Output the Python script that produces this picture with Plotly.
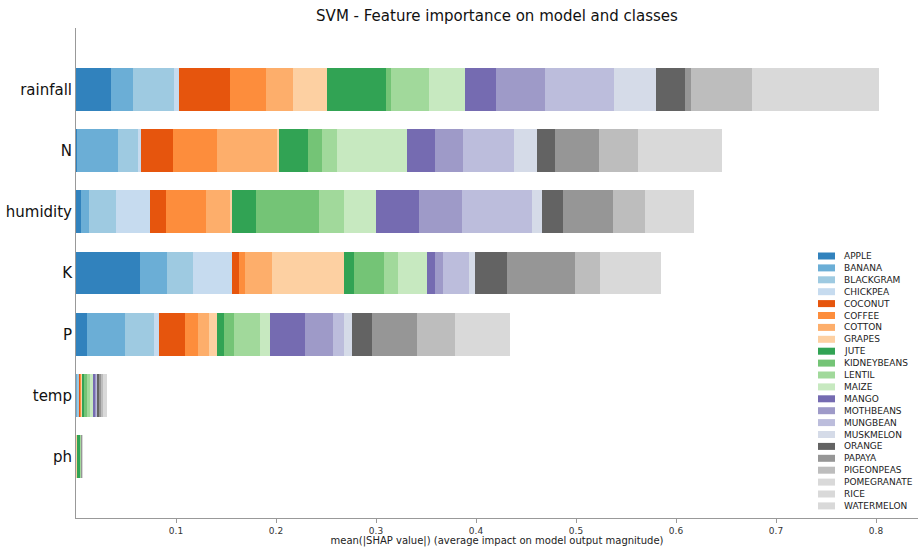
import plotly.graph_objects as go

# Features, bottom to top as drawn
features = ["ph", "temp", "P", "K", "humidity", "N", "rainfall"]

classes = ["APPLE", "BANANA", "BLACKGRAM", "CHICKPEA", "COCONUT", "COFFEE", "COTTON",
           "GRAPES", "JUTE", "KIDNEYBEANS", "LENTIL", "MAIZE", "MANGO", "MOTHBEANS",
           "MUNGBEAN", "MUSKMELON", "ORANGE", "PAPAYA", "PIGEONPEAS", "POMEGRANATE",
           "RICE", "WATERMELON"]

# tab20c palette; classes past the 20th reuse the last colour
colors = ["#3182bd", "#6baed6", "#9ecae1", "#c6dbef", "#e6550d", "#fd8d3c", "#fdae6b",
          "#fdd0a2", "#31a354", "#74c476", "#a1d99b", "#c7e9c0", "#756bb1", "#9e9ac8",
          "#bcbddc", "#d5dbe8", "#636363", "#969696", "#bdbdbd", "#d9d9d9",
          "#d9d9d9", "#d9d9d9"]

# mean(|SHAP value|) per class, one list per feature (in class order)
rainfall = [0.0347, 0.0226, 0.0407, 0.0053, 0.0507, 0.0360, 0.0267, 0.0343, 0.0587, 0.0053,
            0.0383, 0.0360, 0.0307, 0.0490, 0.0693, 0.0417, 0.0287, 0.0060, 0.0610, 0.0450,
            0.0400, 0.0423]
N = [0.0010, 0.0410, 0.0203, 0.0027, 0.0323, 0.0434, 0.0610, 0.0010, 0.0297, 0.0133,
     0.0150, 0.0700, 0.0280, 0.0287, 0.0507, 0.0230, 0.0176, 0.0447, 0.0390, 0.0300,
     0.0280, 0.0253]
humidity = [0.0050, 0.0080, 0.0267, 0.0343, 0.0157, 0.0403, 0.0243, 0.0017, 0.0240, 0.0627,
            0.0253, 0.0317, 0.0430, 0.0430, 0.0700, 0.0106, 0.0210, 0.0494, 0.0323, 0.0180,
            0.0160, 0.0153]
K = [0.0640, 0.0273, 0.0260, 0.0384, 0.0070, 0.0063, 0.0270, 0.0720, 0.0100, 0.0300,
     0.0140, 0.0293, 0.0077, 0.0080, 0.0260, 0.0060, 0.0317, 0.0680, 0.0253, 0.0220,
     0.0200, 0.0187]
P = [0.0107, 0.0386, 0.0290, 0.0044, 0.0266, 0.0130, 0.0110, 0.0077, 0.0070, 0.0100,
     0.0257, 0.0103, 0.0353, 0.0277, 0.0110, 0.0080, 0.0200, 0.0447, 0.0383, 0.0200,
     0.0180, 0.0170]
temp = [0.0005, 0.0005, 0.0025, 0.0003, 0.0005, 0.0012, 0.0003, 0.0003, 0.0020, 0.0030,
        0.0030, 0.0025, 0.0025, 0.0015, 0.0008, 0.0003, 0.0015, 0.0025, 0.0015, 0.0015,
        0.0012, 0.0010]
ph = [0.0002, 0.0001, 0.0001, 0.0001, 0.0001, 0.0001, 0.0001, 0.0001, 0.0035, 0.0005,
      0.0003, 0.0002, 0.0001, 0.0001, 0.0001, 0.0001, 0.0001, 0.0001, 0.0001, 0.0001,
      0.0001, 0.0001]

values_by_feature = {"ph": ph, "temp": temp, "P": P, "K": K, "humidity": humidity,
                     "N": N, "rainfall": rainfall}

x_ticks = [0.1, 0.2, 0.3, 0.4, 0.5, 0.6, 0.7, 0.8]

W, H = 919, 547
M_L, M_R, M_T, M_B = 76, 1, 28, 29

fig = go.Figure()
for ci, cls in enumerate(classes):
    fig.add_trace(go.Bar(
        y=features,
        x=[values_by_feature[f][ci] for f in features],
        orientation="h",
        name=cls,
        marker=dict(color=colors[ci], line=dict(width=0)),
        showlegend=False,
        hovertemplate=cls + " %{y}: %{x:.4f}<extra></extra>",
    ))

# Compact legend drawn as swatches + labels in paper coordinates
plot_w = W - M_L - M_R
plot_h = H - M_T - M_B


def px_x(px):
    return (px - M_L) / plot_w


def px_y(py):
    return 1 - (py - M_T) / plot_h


leg_top = 256
leg_step = 11.9
for ci, cls in enumerate(classes):
    cy = leg_top + ci * leg_step
    fig.add_shape(type="rect", xref="paper", yref="paper",
                  x0=px_x(818), x1=px_x(835), y0=px_y(cy + 3.5), y1=px_y(cy - 3.5),
                  fillcolor=colors[ci], line=dict(width=0))
    fig.add_annotation(xref="paper", yref="paper", x=px_x(842), y=px_y(cy),
                       text=cls, showarrow=False, xanchor="left", yanchor="middle",
                       font=dict(size=9, color="#222222"))

fig.update_layout(
    width=W, height=H,
    margin=dict(l=M_L, r=M_R, t=M_T, b=M_B, autoexpand=False),
    barmode="stack",
    bargap=0.3,
    plot_bgcolor="white",
    paper_bgcolor="white",
    font=dict(family="DejaVu Sans", color="#222222"),
    title=dict(text="SVM - Feature importance on model and classes",
               x=px_x(497), xref="paper", xanchor="center",
               y=1 - 16 / H, yref="container", yanchor="middle",
               font=dict(size=15, color="#111111")),
    xaxis=dict(range=[0, (W - M_L - M_R) / 1000], tickvals=x_ticks,
               ticktext=[f"{v:.1f}" for v in x_ticks],
               showgrid=False, zeroline=False, showline=True, linecolor="#999999",
               linewidth=1, ticks="outside", ticklen=4, tickcolor="#999999",
               tickfont=dict(size=9, color="#333333"),
               title=dict(text="mean(|SHAP value|) (average impact on model output magnitude)",
                          font=dict(size=10, color="#222222"), standoff=2),
               automargin=False),
    yaxis=dict(categoryorder="array", categoryarray=features,
               range=[-1, len(features)], showgrid=False, zeroline=False,
               showline=True, linecolor="#999999", linewidth=1, ticks="",
               tickfont=dict(size=15, color="#111111"), automargin=False),
)

fig.write_html("out.html")
